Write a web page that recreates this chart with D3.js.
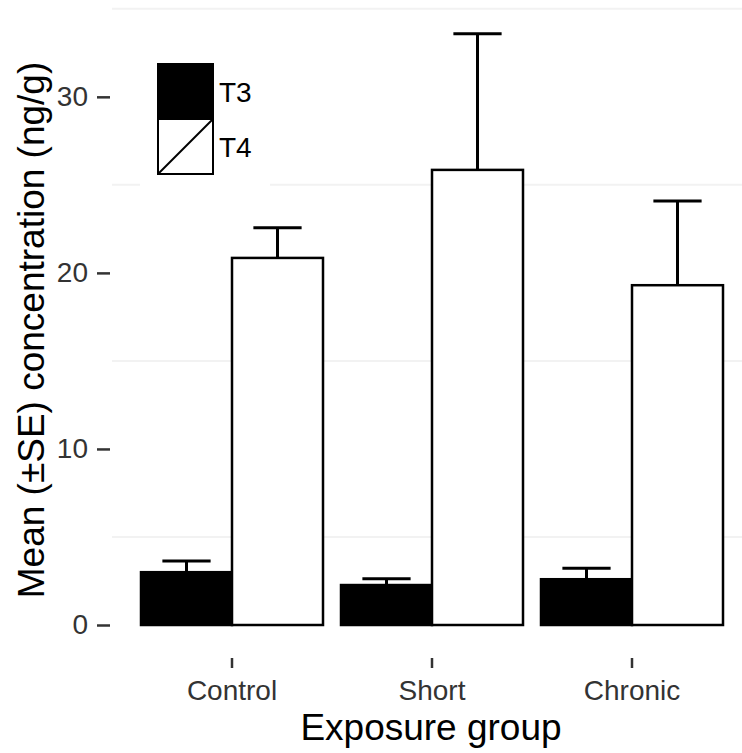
<!DOCTYPE html>
<html>
<head>
<meta charset="utf-8">
<script src="https://cdn.jsdelivr.net/npm/d3@7"></script>
<style>
  body { margin: 0; background: #fff; }
  text { font-family: "Liberation Sans", Arial, sans-serif; }
</style>
</head>
<body>
<div id="chart"></div>
<script>
// datos
const groups = ["Control", "Short", "Chronic"];
const hormones = ["T3", "T4"];
const t3Means = [3.0, 2.27, 2.6];
const t3SE = [0.63, 0.35, 0.63];
const t4Means = [20.85, 25.85, 19.3];
const t4SE = [1.71, 7.73, 4.78];
const yTicks = [0, 10, 20, 30];
const yGrid = [5, 15, 25, 35];

const width = 742;
const height = 753;

const svg = d3
  .select("#chart")
  .append("svg")
  .attr("width", width)
  .attr("height", height);

const rows = [];
groups.forEach((g, i) => {
  rows.push({ group: g, hormone: "T3", mean: t3Means[i], se: t3SE[i] });
  rows.push({ group: g, hormone: "T4", mean: t4Means[i], se: t4SE[i] });
});

const xScale = d3
  .scaleBand()
  .domain(groups)
  .range([112, 752])
  .paddingInner(0.09)
  .paddingOuter(0.145);

const hScale = d3
  .scaleBand()
  .domain(hormones)
  .range([0, xScale.bandwidth()]);

const yScale = d3.scaleLinear().domain([0, 35.5]).range([625, 0]);

const fills = { T3: "#000", T4: "#fff" };

// lineas de fondo (solo las menores se ven)
svg
  .selectAll(".grid")
  .data(yGrid)
  .enter()
  .append("line")
  .attr("class", "grid")
  .attr("x1", 112)
  .attr("x2", width)
  .attr("y1", (d) => yScale(d))
  .attr("y2", (d) => yScale(d))
  .attr("stroke", "#f2f2f2")
  .attr("stroke-width", 2);

// barras
svg
  .selectAll(".bar")
  .data(rows)
  .enter()
  .append("rect")
  .attr("class", "bar")
  .attr("x", (d) => xScale(d.group) + hScale(d.hormone))
  .attr("y", (d) => yScale(d.mean))
  .attr("width", hScale.bandwidth())
  .attr("height", (d) => yScale(0) - yScale(d.mean))
  .attr("fill", (d) => fills[d.hormone])
  .attr("stroke", "#000")
  .attr("stroke-width", 2.5);

// barras de error (solo hacia arriba)
const capW = hScale.bandwidth() * 0.53;
const err = svg
  .selectAll(".err")
  .data(rows)
  .enter()
  .append("g")
  .attr("class", "err")
  .attr("stroke", "#000")
  .attr("stroke-width", 3);

err
  .append("line")
  .attr("x1", (d) => xScale(d.group) + hScale(d.hormone) + hScale.bandwidth() / 2)
  .attr("x2", (d) => xScale(d.group) + hScale(d.hormone) + hScale.bandwidth() / 2)
  .attr("y1", (d) => yScale(d.mean))
  .attr("y2", (d) => yScale(d.mean + d.se));

err
  .append("line")
  .attr("x1", (d) => xScale(d.group) + hScale(d.hormone) + hScale.bandwidth() / 2 - capW / 2)
  .attr("x2", (d) => xScale(d.group) + hScale(d.hormone) + hScale.bandwidth() / 2 + capW / 2)
  .attr("y1", (d) => yScale(d.mean + d.se))
  .attr("y2", (d) => yScale(d.mean + d.se));

// ejes
const yAxis = d3.axisLeft(yScale).tickValues(yTicks).tickSize(13).tickPadding(9);
const yAxisG = svg.append("g").attr("transform", "translate(110,0)").call(yAxis);

const xAxis = d3.axisBottom(xScale).tickSize(10).tickPadding(12);
const xAxisG = svg.append("g").attr("transform", "translate(0,658)").call(xAxis);

[yAxisG, xAxisG].forEach((g) => {
  g.select(".domain").remove();
  g.selectAll(".tick line").attr("stroke", "#333").attr("stroke-width", 2.5);
  g.selectAll(".tick text")
    .attr("fill", "#333")
    .style("font-size", "28px")
    .style("font-family", '"Liberation Sans", Arial, sans-serif');
});

// titulos
svg
  .append("text")
  .attr("x", 431)
  .attr("y", 740)
  .attr("text-anchor", "middle")
  .style("font-size", "37px")
  .text("Exposure group");

svg
  .append("text")
  .attr("transform", "translate(44,330) rotate(-90)")
  .attr("text-anchor", "middle")
  .style("font-size", "37px")
  .text("Mean (±SE) concentration (ng/g)");

// leyenda
const legend = svg.append("g");
legend
  .append("rect")
  .attr("x", 140)
  .attr("y", 46)
  .attr("width", 130)
  .attr("height", 146)
  .attr("fill", "#fff");

const keySize = 55;
hormones.forEach((h, i) => {
  const ky = 64 + i * keySize;
  legend
    .append("rect")
    .attr("x", 158)
    .attr("y", ky)
    .attr("width", keySize)
    .attr("height", keySize)
    .attr("fill", fills[h])
    .attr("stroke", "#000")
    .attr("stroke-width", 2);
  if (h === "T4") {
    legend
      .append("line")
      .attr("x1", 158)
      .attr("y1", ky + keySize)
      .attr("x2", 158 + keySize)
      .attr("y2", ky)
      .attr("stroke", "#000")
      .attr("stroke-width", 2);
  }
  legend
    .append("text")
    .attr("x", 219)
    .attr("y", ky + keySize / 2 + 10)
    .style("font-size", "28px")
    .text(h);
});
</script>
</body>
</html>
